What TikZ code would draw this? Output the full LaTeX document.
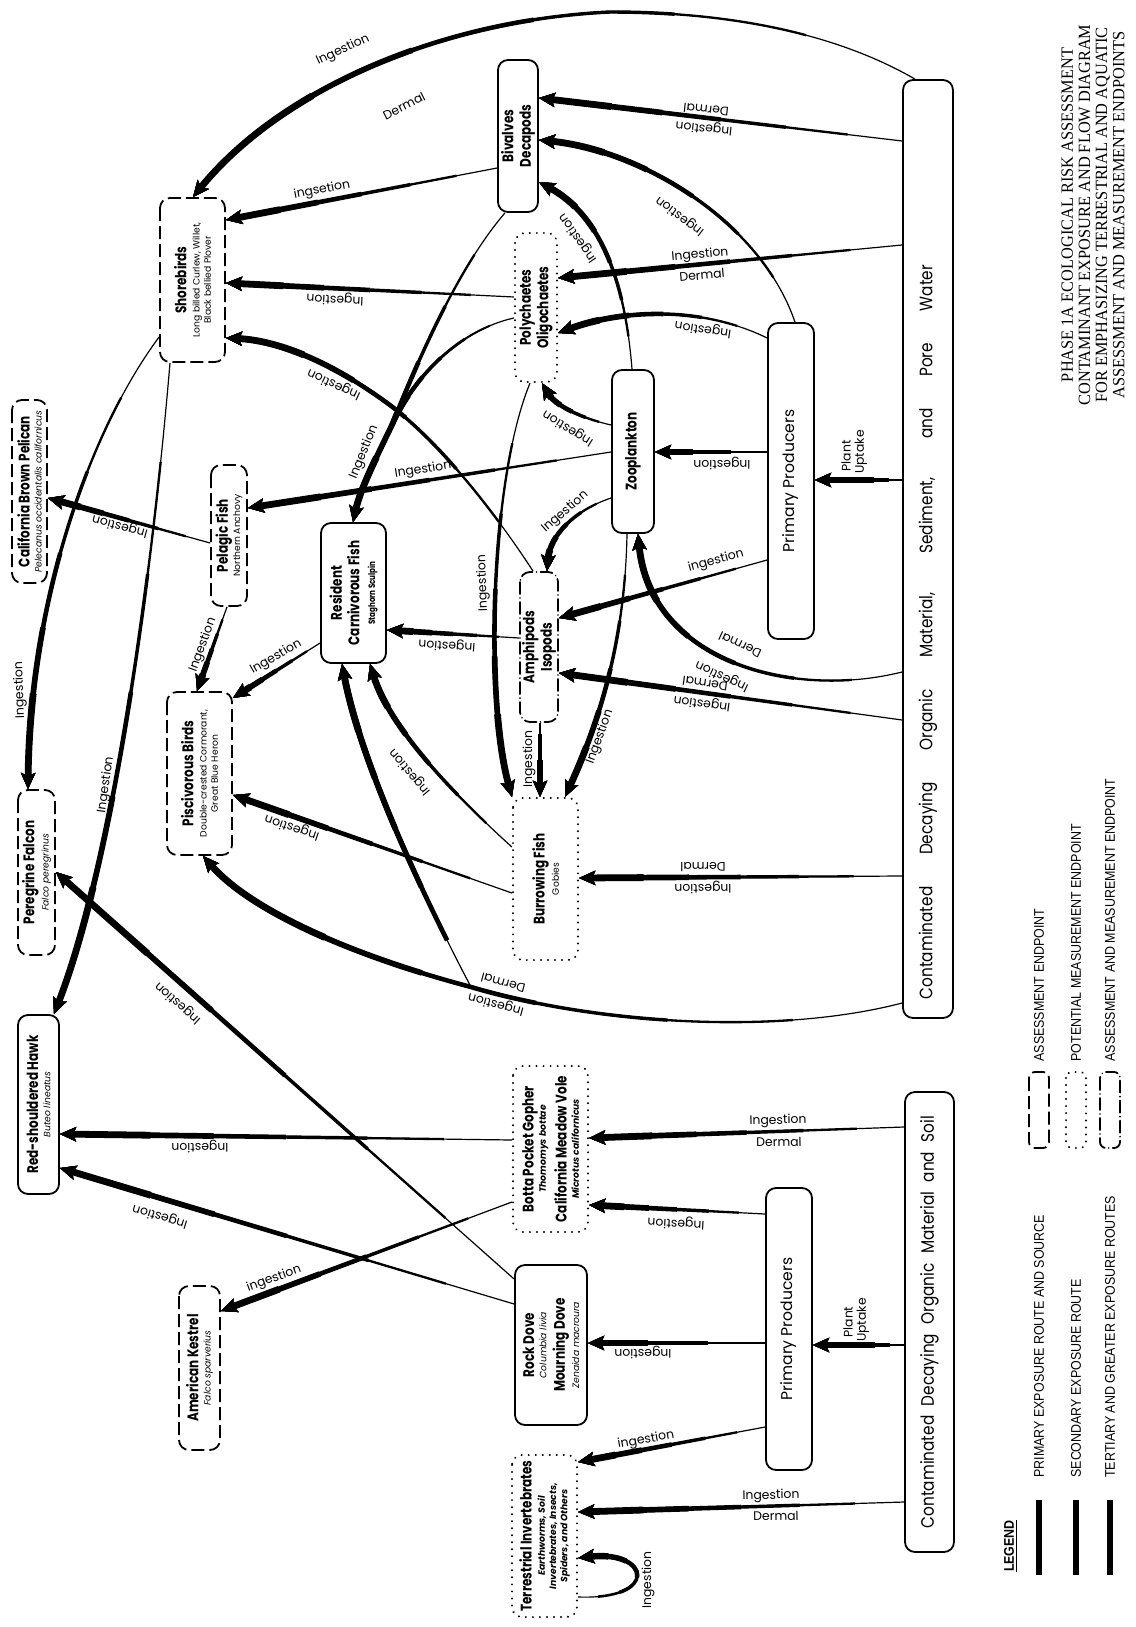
\documentclass[tikz,border=0pt]{standalone}
\usepackage{fontspec}
\setmainfont{Poppins}
\newfontfamily\nodefont[FakeStretch=0.78]{Poppins}
\newfontfamily\srcfont[FakeStretch=0.85]{Poppins}
\newfontfamily\titlefont[FakeStretch=0.95]{Liberation Serif}
\newfontfamily\legfont[FakeStretch=0.89]{Liberation Sans}
\usetikzlibrary{arrows.meta,decorations.markings}
\newcommand\nttl{\nodefont\bfseries\fontsize{7.7}{8.8}\selectfont}
\newcommand\nsp{\fontsize{4.6}{5.6}\selectfont}
\newcommand\lbl{\fontsize{6.2}{7}\selectfont}
\newcommand\ppf{\fontsize{7.8}{9}\selectfont}
\newcommand\srcf{\srcfont\fontsize{9}{10}\selectfont}
\newcommand\legf{\legfont\fontsize{7}{8}\selectfont}
\tikzset{
  nd/.style={rotate=90, align=center, inner sep=1pt, rounded corners=5pt, line width=0.9pt, font=\nsp},
  solidb/.style={nd, draw},
  dashb/.style={nd, draw, dash pattern=on 6.5pt off 2.5pt},
  dotb/.style={nd, draw, line width=1.1pt, line cap=round, dash pattern=on 0.01pt off 3.5pt},
  ddb/.style={nd, draw, line cap=round, dash pattern=on 6pt off 2pt on 0.01pt off 2pt},
  lab/.style={font=\lbl, inner sep=0pt},
  tp/.style 2 args={
    postaction={decorate,decoration={markings,mark=at position 0 with {%
       \pgfmathsetmacro\tpa{0.15*\pgfdecoratedpathlength}\xdef\tpa{\tpa pt}%
       \pgfmathsetmacro\tpb{0.32*\pgfdecoratedpathlength}\xdef\tpb{\tpb pt}%
       \pgfmathsetmacro\tpc{0.5*\pgfdecoratedpathlength}\xdef\tpc{\tpc pt}%
       \pgfmathsetmacro\tpd{0.66*\pgfdecoratedpathlength}\xdef\tpd{\tpd pt}%
       \pgfmathsetmacro\tpe{0.8*\pgfdecoratedpathlength}\xdef\tpe{\tpe pt}%
    }}},
    postaction={draw,line width={(#1+(#2-#1)*0.2)*1pt},/utils/exec={\pgfsetdash{{0pt}{\tpa}{10000pt}{1pt}}{0pt}}},
    postaction={draw,line width={(#1+(#2-#1)*0.4)*1pt},/utils/exec={\pgfsetdash{{0pt}{\tpb}{10000pt}{1pt}}{0pt}}},
    postaction={draw,line width={(#1+(#2-#1)*0.6)*1pt},/utils/exec={\pgfsetdash{{0pt}{\tpc}{10000pt}{1pt}}{0pt}}},
    postaction={draw,line width={(#1+(#2-#1)*0.8)*1pt},/utils/exec={\pgfsetdash{{0pt}{\tpd}{10000pt}{1pt}}{0pt}}},
    postaction={draw,line width={#2*1pt},/utils/exec={\pgfsetdash{{0pt}{\tpe}{10000pt}{1pt}}{0pt}}}
  },
  ar/.style={line width=0.6pt, -{Stealth[length=8pt,width=7pt,inset=1.5pt]}, tp={0.6}{3.4}},
  ar2/.style 2 args={line width=0.6pt, -{Stealth[length=8pt,width=7pt,inset=1.5pt]}, tp={#1}{#2}},
  lnt/.style 2 args={line width=0.6pt, tp={#1}{#2}},
}
\begin{document}
\begin{tikzpicture}[x=0.5pt,y=-0.5pt,line join=round]
\fill[white] (0,0) rectangle (1135,1627);
\useasboundingbox (0,0) rectangle (1135,1627);

% ---------------- nodes ----------------
\node[solidb, minimum width=469pt, minimum height=25pt] (srcA) at (928,549) {};
\node[font=\srcf, rotate=90, inner sep=0pt] (srcAt) at (928,632) {\makebox[367pt][s]{Contaminated Decaying Organic Material, Sediment, and Pore Water}};
\node[solidb, minimum width=230pt, minimum height=24.5pt, font=\srcf] (srcS) at (929.5,1322) {\makebox[206pt][s]{Contaminated Decaying Organic Material and Soil}};

\node[dashb, minimum width=82pt, minimum height=32.5pt] (shore) at (192.5,280) {{\nttl Shorebirds}\\[1pt]Long billed Curlew, Willet,\\Black bellied Plover};
\node[solidb, minimum width=76pt, minimum height=20pt, font=\nttl] (biv) at (518,136) {Bivalves\\Decapods};
\node[dotb, minimum width=74.5pt, minimum height=21pt, font=\nttl] (poly) at (536,307.5) {Polychaetes\\Oligochaetes};
\node[solidb, minimum width=81.5pt, minimum height=21pt, font=\nttl] (zoo) at (633,451.5) {Zooplankton};
\node[solidb, minimum width=158pt, minimum height=23pt, font=\ppf] (ppa) at (791,481) {Primary Producers};
\node[ddb, minimum width=75pt, minimum height=19pt, font=\nttl] (amph) at (539,647) {Amphipods\\Isopods};
\node[solidb, minimum width=70pt, minimum height=32.5pt, font=\nttl] (res) at (353.5,593) {Resident\\Carnivorous Fish\\[-1pt]{\nsp Staghorn Sculpin}};
\node[dashb, minimum width=70.5pt, minimum height=18pt] (pel) at (229,535.5) {{\nttl Pelagic Fish}\\[0.5pt]Northern Anchovy};
\node[dashb, minimum width=91.5pt, minimum height=17.5pt] (pelican) at (29.5,491.5) {{\nttl California Brown Pelican}\\[0.5pt]{\itshape Pelecanus occidentalis californicus}};
\node[dashb, minimum width=81.5pt, minimum height=32.5pt] (pisc) at (199.5,773.5) {{\nttl Piscivorous Birds}\\[1pt]Double-crested Cormorant,\\Great Blue Heron};
\node[dashb, minimum width=82.5pt, minimum height=18.5pt] (pere) at (36.5,872.5) {{\nttl Peregrine Falcon}\\[0.5pt]{\itshape Falco peregrinus}};
\node[dotb, minimum width=81pt, minimum height=32.5pt] (burr) at (545.5,879) {{\nttl Burrowing Fish}\\[0.5pt]Gobies};
\node[solidb, minimum width=89.5pt, minimum height=20.5pt] (hawk) at (38.5,1104.5) {{\nttl Red-shouldered Hawk}\\[0.5pt]{\itshape Buteo lineatus}};
\node[dotb, minimum width=83pt, minimum height=37.5pt] (gopher) at (550.5,1149) {{\nttl Botta Pocket Gopher}\\[0.5pt]{\bfseries\itshape Thomomys bottae}\\[2pt]{\nttl California Meadow Vole}\\[0.5pt]{\bfseries\itshape Microtus californicus}};
\node[dashb, minimum width=82pt, minimum height=20.5pt] (kestrel) at (199.5,1368) {{\nttl American Kestrel}\\[0.5pt]{\itshape Falco sparverius}};
\node[solidb, minimum width=80pt, minimum height=36pt] (dove) at (551,1345) {{\nttl Rock Dove}\\[0.5pt]{\itshape Columbia livia}\\[2pt]{\nttl Mourning Dove}\\[0.5pt]{\itshape Zenaida macroura}};
\node[solidb, minimum width=141pt, minimum height=23pt, font=\ppf] (ppt) at (789,1329) {Primary Producers};
\node[dotb, minimum width=81pt, minimum height=32.5pt] (inv) at (544.5,1536) {{\nttl Terrestrial Invertebrates}\\[1pt]{\bfseries\itshape Earthworms, Soil}\\{\bfseries\itshape Invertebrates, Insects,}\\{\bfseries\itshape Spiders, and Others}};

% ---------------- connectors ----------------
\draw[ar] (915,0 |- srcA.east) .. controls (830,30) and (720,12) .. (610,12) .. controls (440,20) and (280,90) .. (193,0 |- shore.east);
\draw[ar] (srcA.north |- 0,141) -- (biv.south |- 0,98);
\draw[ar] (srcA.north |- 0,245) -- (poly.south |- 0,278);
\draw[ar] (srcA.north |- 0,672) .. controls (790,700) and (650,660) .. (638,0 |- zoo.west);
\draw[ar] (srcA.north |- 0,720) -- (amph.south |- 0,673);
\draw[ar] (srcA.north |- 0,876) -- (burr.south |- 0,878);
\draw[ar] (srcA.north |- 0,1003) .. controls (780,1035) and (600,1025) .. (471,987) coordinate (jn) .. controls (350,955) and (250,910) .. (203,0 |- pisc.west);
\draw[ar2={2.1}{3.4}] (jn) .. controls (420,890) and (360,760) .. (342,0 |- res.west);
\draw[ar2={2.2}{3.2}] (srcA.north |- 0,480) -- (ppa.south |- 0,480);

\draw[ar] (795,0 |- ppa.east) .. controls (760,220) and (640,150) .. (biv.south |- 0,140);
\draw[ar] (ppa.north |- 0,338) .. controls (700,305) and (620,310) .. (poly.south |- 0,333);
\draw[ar] (ppa.north |- 0,452) -- (zoo.south |- 0,452);
\draw[ar] (ppa.north |- 0,560) -- (amph.south |- 0,618);

\draw[ar] (632,0 |- zoo.east) .. controls (625,280) and (600,215) .. (biv.south |- 0,182);
\draw[ar] (zoo.north |- 0,425) .. controls (580,418) and (555,405) .. (542,0 |- poly.west);
\draw[ar] (zoo.north |- 0,498) .. controls (575,510) and (550,535) .. (547,0 |- amph.east);
\draw[ar] (627,0 |- zoo.west) .. controls (625,640) and (600,720) .. (565,0 |- burr.east);
\draw[ar] (zoo.north |- 0,452) -- (pel.south |- 0,508);

\draw[ar] (biv.north |- 0,168) -- (shore.south |- 0,220);
\draw[ar] (505,0 |- biv.west) .. controls (460,265) and (420,355) .. (392,425) coordinate (mg) .. controls (375,460) and (360,490) .. (353,0 |- res.east);
\draw[lnt={0.6}{2.6}] (poly.north |- 0,318) .. controls (460,330) and (415,375) .. (mg);
\draw[ar] (poly.north |- 0,297) -- (shore.south |- 0,283);
\draw[ar] (530,0 |- poly.west) .. controls (490,480) and (485,700) .. (512,0 |- burr.east);

\draw[ar] (533,0 |- amph.east) .. controls (500,520) and (440,440) .. (383,400) .. controls (320,355) and (270,340) .. (shore.south |- 0,338);
\draw[ar] (amph.north |- 0,638) -- (res.south |- 0,630);
\draw[ar2={2}{3.2}] (540,0 |- amph.west) -- (540,0 |- burr.east);

\draw[ar] (burr.north |- 0,893) -- (pisc.south |- 0,795);
\draw[ar] (burr.north |- 0,847) .. controls (460,800) and (390,730) .. (370,0 |- res.west);
\draw[ar] (res.north |- 0,643) -- (pisc.south |- 0,698);
\draw[ar] (pel.north |- 0,543) -- (pelican.south |- 0,498);
\draw[ar] (227,0 |- pel.west) -- (197,0 |- pisc.east);

\draw[ar] (shore.north |- 0,337) .. controls (90,430) and (30,600) .. (28,0 |- pere.east);
\draw[ar] (170,0 |- shore.west) .. controls (150,600) and (110,870) .. (54,0 |- hawk.east);

\draw[ar] (gopher.north |- 0,1140) -- (hawk.south |- 0,1134);
\draw[ar] (gopher.north |- 0,1202) -- (kestrel.south |- 0,1311);
\draw[ar] (dove.north |- 0,1304) .. controls (400,1270) and (200,1210) .. (hawk.south |- 0,1168);
\draw[ar] (dove.north |- 0,1279) -- (pere.south |- 0,872);

\draw[ar] (ppt.north |- 0,1214) -- (gopher.south |- 0,1205);
\draw[ar] (ppt.north |- 0,1343) -- (dove.south |- 0,1343);
\draw[ar] (ppt.north |- 0,1427) -- (inv.south |- 0,1462);
\draw[ar] (srcS.north |- 0,1127) -- (gopher.south |- 0,1138);
\draw[ar2={2.2}{3.2}] (srcS.north |- 0,1345) -- (ppt.south |- 0,1345);
\draw[ar] (srcS.north |- 0,1502) -- (inv.south |- 0,1512);
\draw[ar2={0.8}{3.2}] (inv.south |- 0,1597) .. controls (660,1600) and (650,1550) .. (inv.south |- 0,1558);

% ---------------- labels ----------------
\node[lab, rotate=25] (L1) at (343,50) {Ingestion};
\node[lab, rotate=27] (L2) at (404,106) {Dermal};
\node[lab, rotate=174] (L3) at (706,110) {Dermal};
\node[lab, rotate=174] (L4) at (704,128) {Ingestion};
\node[lab, rotate=5] (L5) at (700,255) {Ingestion};
\node[lab, rotate=5] (L6) at (702,275) {Dermal};
\node[lab, rotate=155] (L7) at (740,645) {Dermal};
\node[lab, rotate=155] (L8) at (722,676) {Ingestion};
\node[lab, rotate=172] (L9) at (705,684) {Dermal};
\node[lab, rotate=172] (L10) at (702,703) {Ingestion};
\node[lab, rotate=180] (L11) at (703,867) {Dermal};
\node[lab, rotate=180] (L12) at (703,888) {Ingestion};
\node[lab, rotate=165] (L13) at (503,983) {Dermal};
\node[lab, rotate=165] (L14) at (496,1004) {Ingestion};
\node[lab, rotate=90] (L15) at (846,456) {Plant};
\node[lab, rotate=90] (L16) at (861,452) {Uptake};
\node[lab, rotate=143] (L17) at (680,216) {Ingestion};
\node[lab, rotate=171] (L18) at (703,329) {Ingestion};
\node[lab, rotate=180] (L19) at (722,464) {Ingestion};
\node[lab, rotate=15] (L20) at (716,561) {ingestion};
\node[lab, rotate=125] (L21) at (578,238) {Ingestion};
\node[lab, rotate=148] (L22) at (568,428) {Ingestion};
\node[lab, rotate=41] (L23) at (565,512) {Ingestion};
\node[lab, rotate=70] (L24) at (600,737) {Ingestion};
\node[lab, rotate=9] (L25) at (423,470) {Ingestion};
\node[lab, rotate=11] (L26) at (322,190) {ingsetion};
\node[lab, rotate=68] (L27) at (364,452) {Ingestion};
\node[lab, rotate=177] (L28) at (335,299) {Ingestion};
\node[lab, rotate=92] (L29) at (483,583) {Ingestion};
\node[lab, rotate=155] (L30) at (334,384) {Ingestion};
\node[lab, rotate=176] (L31) at (447,645) {Ingestion};
\node[lab, rotate=90] (L32) at (529,759) {Ingestion};
\node[lab, rotate=161] (L33) at (292,827) {Ingestion};
\node[lab, rotate=130] (L34) at (410,772) {Ingestion};
\node[lab, rotate=30] (L35) at (276,657) {Ingestion};
\node[lab, rotate=165] (L36) at (120,526) {Ingestion};
\node[lab, rotate=70] (L37) at (203,645) {Ingestion};
\node[lab, rotate=92] (L38) at (20,690) {Ingestion};
\node[lab, rotate=82] (L39) at (106,785) {Ingestion};
\node[lab, rotate=180] (L40) at (200,1147) {Ingestion};
\node[lab, rotate=20] (L41) at (274,1279) {ingestion};
\node[lab, rotate=163] (L42) at (160,1216) {Ingestion};
\node[lab, rotate=138] (L43) at (178,1003) {Ingestion};
\node[lab, rotate=177] (L44) at (676,1223) {Ingestion};
\node[lab, rotate=180] (L45) at (643,1353) {Ingestion};
\node[lab, rotate=10] (L46) at (646,1440) {ingestion};
\node[lab, rotate=1] (L47) at (778,1121) {Ingestion};
\node[lab, rotate=1] (L48) at (779,1142) {Dermal};
\node[lab, rotate=90] (L49) at (848,1322) {Plant};
\node[lab, rotate=90] (L50) at (863,1320) {Uptake};
\node[lab, rotate=1] (L51) at (771,1496) {Ingestion};
\node[lab, rotate=1] (L52) at (776,1516) {Dermal};
\node[lab, rotate=90] (L53) at (648,1580) {Ingestion};

% ---------------- title ----------------
\node[font=\titlefont\fontsize{8.6}{8.6}\selectfont, rotate=90, align=center, inner sep=0pt] (title) at (1093,215)
  {PHASE 1A ECOLOGICAL RISK ASSESSMENT\\CONTAMINANT EXPOSURE AND FLOW DIAGRAM\\FOR EMPHASIZING TERRESTRIAL AND AQUATIC\\ASSESSMENT AND MEASUREMENT ENDPOINTS};

% ---------------- legend ----------------
\node[font=\legf\bfseries, rotate=90, inner sep=0pt] (lgd) at (1011,1546) {\underline{LEGEND}};
\draw[line width=2.6pt] (1039,1500) -- (1039,1575);
\draw[line width=2.6pt] (1076,1500) -- (1076,1575);
\draw[line width=2.6pt] (1110,1500) -- (1110,1575);
\node[font=\legf, rotate=90, anchor=west, inner sep=0pt] (lt1) at (1039,1478) {PRIMARY EXPOSURE ROUTE AND SOURCE};
\node[font=\legf, rotate=90, anchor=west, inner sep=0pt] (lt2) at (1076,1478) {SECONDARY EXPOSURE ROUTE};
\node[font=\legf, rotate=90, anchor=west, inner sep=0pt] (lt3) at (1110,1478) {TERTIARY AND GREATER EXPOSURE ROUTES};
\node[dashb, rounded corners=3pt, minimum width=38pt, minimum height=10pt] (lb1) at (1039,1110) {};
\node[dotb, rounded corners=3pt, minimum width=38pt, minimum height=10pt] (lb2) at (1076,1110) {};
\node[ddb, rounded corners=3pt, minimum width=38pt, minimum height=10pt] (lb3) at (1110,1110) {};
\node[font=\legf, rotate=90, anchor=west, inner sep=0pt] (lr1) at (1039,1062) {ASSESSMENT ENDPOINT};
\node[font=\legf, rotate=90, anchor=west, inner sep=0pt] (lr2) at (1076,1062) {POTENTIAL MEASUREMENT ENDPOINT};
\node[font=\legf, rotate=90, anchor=west, inner sep=0pt] (lr3) at (1110,1062) {ASSESSMENT AND MEASUREMENT ENDPOINT};
\end{tikzpicture}
\end{document}
